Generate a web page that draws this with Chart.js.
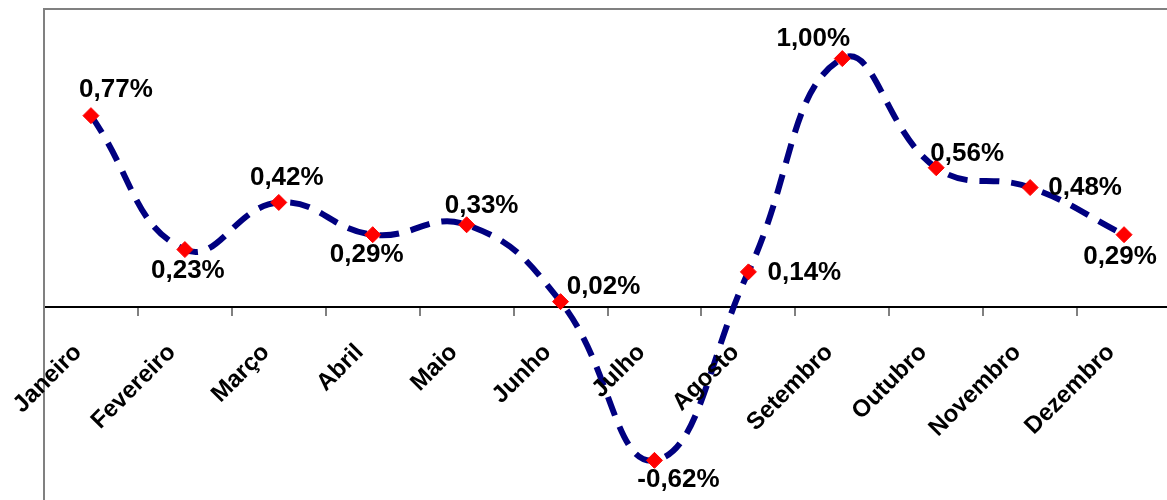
<!DOCTYPE html>
<html>
<head>
<meta charset="utf-8">
<script src="https://cdn.jsdelivr.net/npm/chart.js@4.4.0/dist/chart.umd.min.js"></script>
<style>
  body { margin: 0; overflow: hidden; background: #fff; }
  #grafico { position: absolute; left: 0; top: 0; }
</style>
</head>
<body>
<canvas id="grafico" width="1180" height="514"></canvas>
<script>
// meses e variação mensal (%)
const meses = ['Janeiro', 'Fevereiro', 'Março', 'Abril', 'Maio', 'Junho',
               'Julho', 'Agosto', 'Setembro', 'Outubro', 'Novembro', 'Dezembro'];
const variacao = [0.77, 0.23, 0.42, 0.29, 0.33, 0.02, -0.62, 0.14, 1.00, 0.56, 0.48, 0.29];
const rotulos = ['0,77%', '0,23%', '0,42%', '0,29%', '0,33%', '0,02%',
                 '-0,62%', '0,14%', '1,00%', '0,56%', '0,48%', '0,29%'];

// deslocamento dos rótulos em relação ao ponto (px)
const deslocRotulo = [[25, -26], [3, 21], [8, -25], [-6, 20], [15, -19], [43, -15],
                      [24, 19], [56, 1], [-29, -20], [31, -14], [55, 0], [-4, 22]];

const fonte = '"Liberation Sans", Arial, sans-serif';

const moldura = {
    id: 'moldura',
    beforeDatasetsDraw(chart) {
        const { ctx, chartArea: a } = chart;
        ctx.save();
        ctx.strokeStyle = '#808080';
        ctx.lineWidth = 2;
        ctx.strokeRect(a.left, a.top, a.right - a.left, a.bottom - a.top);
        ctx.restore();
    }
};

const rotulosMeses = {
    id: 'rotulosMeses',
    afterDraw(chart) {
        const { ctx } = chart;
        const x = chart.scales.x, y = chart.scales.y;
        const y0 = y.getPixelForValue(0);
        ctx.save();
        ctx.font = 'bold 24px ' + fonte;
        ctx.fillStyle = '#000';
        ctx.textAlign = 'right';
        ctx.textBaseline = 'middle';
        meses.forEach((m, i) => {
            const px = x.getPixelForValue(i) - 13;
            ctx.save();
            ctx.translate(px, y0 + 42);
            ctx.rotate(-Math.PI / 4);
            ctx.fillText(m, 0, 0);
            ctx.restore();
        });
        ctx.restore();
    }
};

const rotulosDados = {
    id: 'rotulosDados',
    afterDatasetsDraw(chart) {
        const { ctx } = chart;
        const meta = chart.getDatasetMeta(0);
        ctx.save();
        ctx.font = 'bold 26px ' + fonte;
        ctx.fillStyle = '#000';
        ctx.textAlign = 'center';
        ctx.textBaseline = 'middle';
        meta.data.forEach((p, i) => {
            ctx.fillText(rotulos[i], p.x + deslocRotulo[i][0], p.y + deslocRotulo[i][1]);
        });
        ctx.restore();
    }
};

let ctx = document.getElementById('grafico').getContext('2d');
let grafico = new Chart(ctx, {
    type: 'line',
    data: {
        labels: meses,
        datasets: [{
            data: variacao,
            borderColor: '#000080',
            borderWidth: 6,
            borderDash: [20, 12],
            tension: 0.45,
            pointStyle: 'rectRot',
            pointRadius: 8,
            pointBackgroundColor: '#ff0000',
            pointBorderColor: '#ff0000',
            pointBorderWidth: 1
        }]
    },
    options: {
        responsive: false,
        animation: false,
        layout: { padding: { left: 44, top: 8, right: 5, bottom: 6 } },
        plugins: { legend: { display: false }, tooltip: { enabled: false } },
        scales: {
            x: {
                position: { y: 0 },
                offset: true,
                border: { color: '#000', width: 2 },
                grid: { offset: true, drawOnChartArea: false, drawTicks: true, tickLength: 8, color: '#808080', lineWidth: 2 },
                ticks: { display: false }
            },
            y: {
                display: false,
                min: -0.8,
                max: 1.2
            }
        }
    },
    plugins: [moldura, rotulosMeses, rotulosDados]
});
</script>
</body>
</html>
